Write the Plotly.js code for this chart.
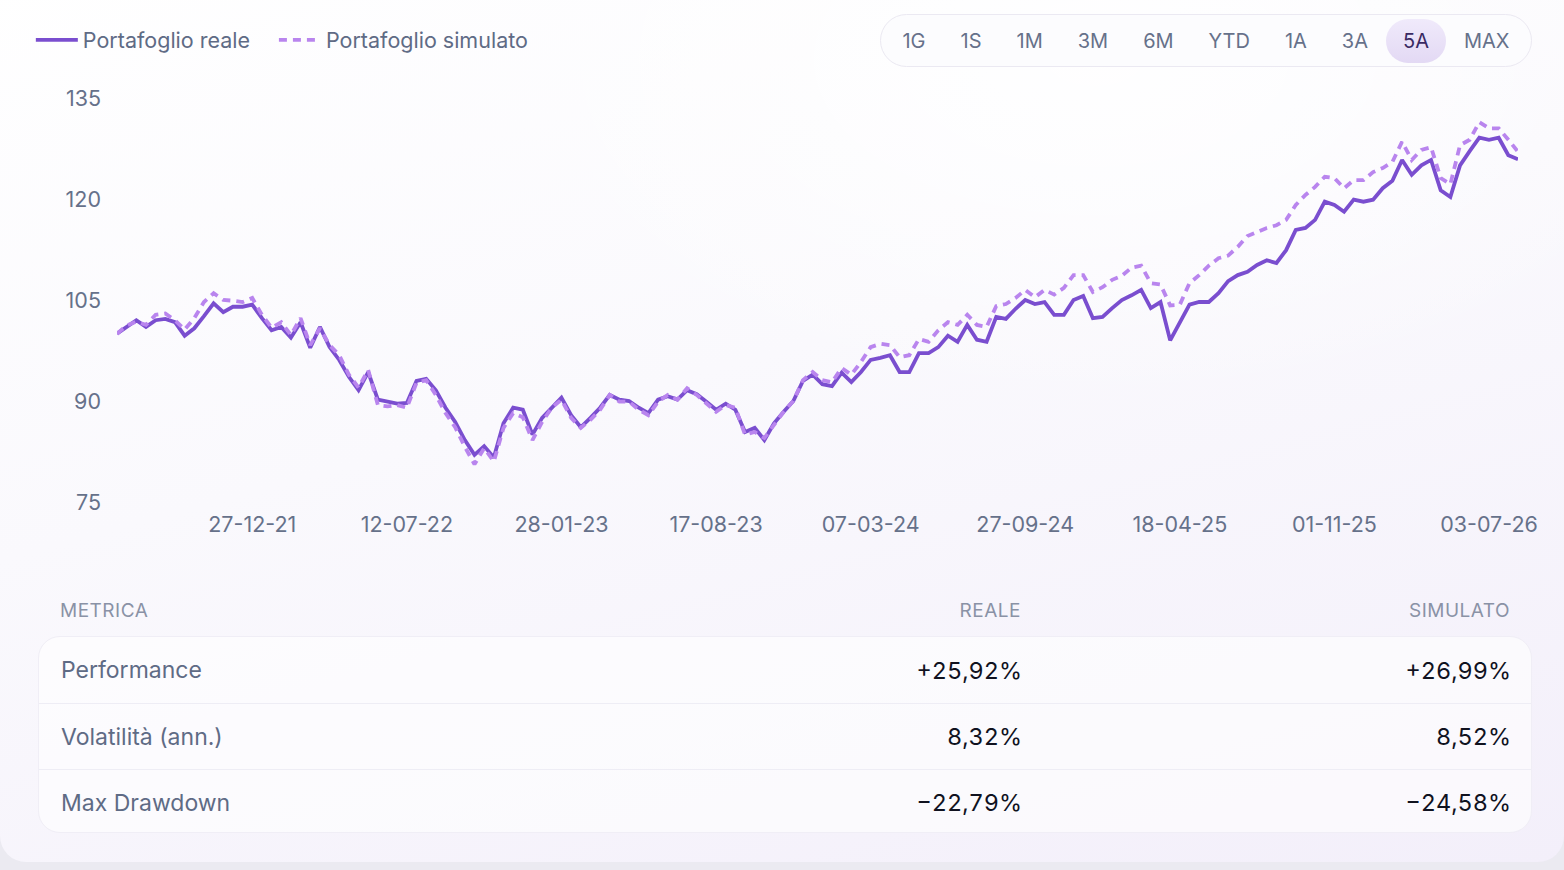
<!DOCTYPE html>
<html>
<head>
<meta charset="utf-8">
<script src="https://cdn.plot.ly/plotly-3.0.1.min.js"></script>
<style>
  html, body { margin: 0; padding: 0; }
  body {
    width: 1564px; height: 870px; overflow: hidden;
    background: #ebeaf1;
    font-family: Inter, "Noto Sans", sans-serif;
  }
  .card {
    position: absolute; left: 0; top: -30px; width: 1564px; height: 892px;
    border-radius: 26px;
    background:
      radial-gradient(ellipse 900px 500px at 70% 10%, rgba(255,255,255,0.9), rgba(255,255,255,0) 70%),
      linear-gradient(165deg, #ffffff 0%, #faf9fd 45%, #f3effa 100%);
  }
  #chart { position: absolute; left: 0; top: 0; width: 1564px; height: 560px; }
  .ranges {
    position: absolute; right: 32px; top: 14px; height: 53px;
    box-sizing: border-box; padding: 4px;
    display: flex; align-items: center;
    border: 1px solid #ebe9f2; border-radius: 27px;
    background: rgba(251, 251, 254, 0.85);
  }
  .ranges span {
    display: block; height: 44px; line-height: 44px; padding: 0 17.5px;
    font-size: 20px; color: #66718a; border-radius: 22px;
  }
  .ranges span.on { background: linear-gradient(#f0eafb, #e3d9f4); color: #3a2a63; }
  .mhead, .mrow {
    display: grid; grid-template-columns: 481px 480px 489px;
    padding: 0 22px; box-sizing: border-box; width: 1494px;
  }
  .mhead {
    position: absolute; left: 38px; top: 599px;
    font-size: 19px; letter-spacing: 0.5px; color: #8a92a6;
  }
  .mcard {
    position: absolute; left: 38px; top: 636px; width: 1494px; height: 197px;
    box-sizing: border-box; border-radius: 22px;
    background: rgba(255, 255, 255, 0.6); border: 1px solid #f0eef6;
    overflow: hidden;
  }
  .mrow { height: 66px; align-items: center; font-size: 23px; }
  .mrow + .mrow { border-top: 1px solid #eeedf5; }
  .mrow .lab { color: #5f6b85; }
  .mrow .val { color: #10121f; text-align: right; font-size: 23.5px; font-variant-numeric: tabular-nums; }
  .r { text-align: right; }
</style>
</head>
<body>
<div class="card"></div>
<div id="chart"></div>
<div class="ranges" id="ranges"></div>
<div class="mhead" id="mhead"></div>
<div class="mcard" id="mcard"></div>
<script>
// Andamento portafoglio, base 100
var reale = [100.0,101.0,102.0,101.0,102.0,102.2,101.7,99.7,100.8,102.6,
  104.5,103.2,104.0,104.0,104.3,102.3,100.5,101.0,99.4,101.7,
  97.9,101.0,98.0,96.1,93.6,91.6,94.3,90.2,89.9,89.6,
  89.7,93.0,93.3,91.6,89.0,86.9,84.2,82.0,83.3,81.6,
  86.7,89.0,88.7,85.0,87.5,89.1,90.5,87.9,86.1,87.5,
  89.0,90.9,90.2,90.0,89.0,88.2,90.2,90.7,90.2,91.6,
  91.0,89.9,88.7,89.6,88.7,85.4,86.0,84.2,86.7,88.4,
  90.0,93.0,93.9,92.5,92.2,94.2,92.8,94.3,96.1,96.4,
  96.8,94.3,94.3,97.1,97.1,98.0,99.7,98.8,101.3,99.1,
  98.8,102.5,102.2,103.7,105.0,104.4,104.7,102.8,102.8,105.0,
  105.6,102.3,102.5,103.8,105.0,105.7,106.5,103.8,104.7,99.0,
  101.7,104.3,104.7,104.7,106.0,107.8,108.7,109.2,110.2,110.9,
  110.5,112.4,115.4,115.7,116.9,119.6,119.1,118.1,119.9,119.6,
  119.9,121.6,122.7,125.8,123.6,125.0,125.8,121.3,120.3,125.0,
  127.1,129.1,128.8,129.1,126.5,125.9];

var simulato = [100.0,101.2,101.8,101.3,102.8,103.0,102.0,100.6,102.3,104.7,
  106.0,105.0,104.9,104.7,105.3,102.8,100.9,101.7,99.8,102.3,
  98.3,100.8,98.3,96.8,93.9,92.0,94.6,89.4,89.2,89.4,
  89.0,92.7,93.1,90.9,88.2,86.1,83.2,80.6,83.0,81.0,
  86.0,88.2,87.6,84.2,86.9,89.0,90.2,87.5,86.0,87.2,
  88.7,90.9,89.9,89.9,88.7,87.9,89.9,90.9,90.2,91.9,
  90.9,89.6,88.4,89.4,89.0,85.0,85.4,84.5,86.4,88.4,
  90.0,93.1,94.3,93.1,92.8,94.9,93.9,95.8,98.0,98.5,
  98.3,96.5,96.8,99.2,98.8,100.5,101.7,101.3,102.8,101.3,
  101.0,104.1,104.4,105.3,106.5,105.4,106.5,105.8,106.8,108.7,
  108.7,106.2,106.9,108.0,108.6,109.8,110.1,107.5,107.3,104.2,
  104.3,107.5,108.7,110.1,111.2,111.6,112.9,114.5,115.1,115.7,
  116.1,116.9,119.1,120.6,121.8,123.3,123.1,121.6,122.8,122.8,
  124.0,124.6,125.5,128.5,125.8,127.3,127.7,123.1,122.2,128.0,
  128.8,131.4,130.5,130.5,128.8,127.0];

var tickIdx = [14, 30, 46, 62, 78, 94, 110, 126, 142];
var dateLabels = ['27-12-21','12-07-22','28-01-23','17-08-23','07-03-24',
  '27-09-24','18-04-25','01-11-25','03-07-26'];
var yTicks = [75, 90, 105, 120, 135];

var rangeLabels = ['1G','1S','1M','3M','6M','YTD','1A','3A','5A','MAX'];
var activeRange = '5A';

var metricHeader = ['METRICA', 'REALE', 'SIMULATO'];
var metricNames = ['Performance', 'Volatilità (ann.)', 'Max Drawdown'];
var realeMetrics = ['+25,92%', '8,32%', '\u221222,79%'];
var simulatoMetrics = ['+26,99%', '8,52%', '\u221224,58%'];

var idx = reale.map(function (v, i) { return i; });

var data = [
  {
    type: 'scatter', mode: 'lines', name: 'Portafoglio reale',
    x: idx, y: reale, legend: 'legend',
    line: { color: '#7a4ecf', width: 3.8 },
    hovertemplate: '%{y:.2f}<extra></extra>'
  },
  {
    type: 'scatter', mode: 'lines', name: 'Portafoglio simulato',
    x: idx, y: simulato, legend: 'legend2',
    line: { color: '#b985ee', width: 3.8, dash: '8px,6px' },
    hovertemplate: '%{y:.2f}<extra></extra>'
  }
];

var legendFont = { family: 'Inter, "Noto Sans", sans-serif', size: 21.5, color: '#5f6b85' };
var tickFont = { family: 'Inter, "Noto Sans", sans-serif', size: 21.5, color: '#66718a' };

var layout = {
  width: 1564, height: 560,
  margin: { l: 117, r: 46, t: 98, b: 58 },
  paper_bgcolor: 'rgba(0,0,0,0)',
  plot_bgcolor: 'rgba(0,0,0,0)',
  showlegend: true,
  legend: {
    orientation: 'h', x: -0.0615, xanchor: 'left', y: 1.1436, yanchor: 'middle',
    itemwidth: 42, font: legendFont, bgcolor: 'rgba(0,0,0,0)'
  },
  legend2: {
    orientation: 'h', x: 0.112, xanchor: 'left', y: 1.1436, yanchor: 'middle',
    itemwidth: 42, font: legendFont, bgcolor: 'rgba(0,0,0,0)'
  },
  xaxis: {
    range: [0, 145], tickmode: 'array', tickvals: tickIdx, ticktext: dateLabels,
    showgrid: false, zeroline: false, showline: false, ticks: '',
    ticklabelstandoff: 7, tickfont: tickFont, fixedrange: true
  },
  yaxis: {
    range: [75, 135], tickmode: 'array', tickvals: yTicks,
    showgrid: false, zeroline: false, showline: false, ticks: '',
    ticklabelstandoff: 15, tickfont: tickFont, fixedrange: true
  },
  hovermode: 'x unified'
};

Plotly.newPlot('chart', data, layout, { displayModeBar: false });

// selettore periodo
var ranges = document.getElementById('ranges');
rangeLabels.forEach(function (r) {
  var s = document.createElement('span');
  s.textContent = r;
  if (r === activeRange) s.className = 'on';
  ranges.appendChild(s);
});

// tabella metriche
var head = document.getElementById('mhead');
metricHeader.forEach(function (h, i) {
  var d = document.createElement('div');
  d.textContent = h;
  if (i > 0) d.className = 'r';
  head.appendChild(d);
});
var card = document.getElementById('mcard');
metricNames.forEach(function (m, i) {
  var row = document.createElement('div');
  row.className = 'mrow';
  [m, realeMetrics[i], simulatoMetrics[i]].forEach(function (t, j) {
    var c = document.createElement('div');
    c.textContent = t;
    c.className = j === 0 ? 'lab' : 'val';
    row.appendChild(c);
  });
  card.appendChild(row);
});
</script>
</body>
</html>
